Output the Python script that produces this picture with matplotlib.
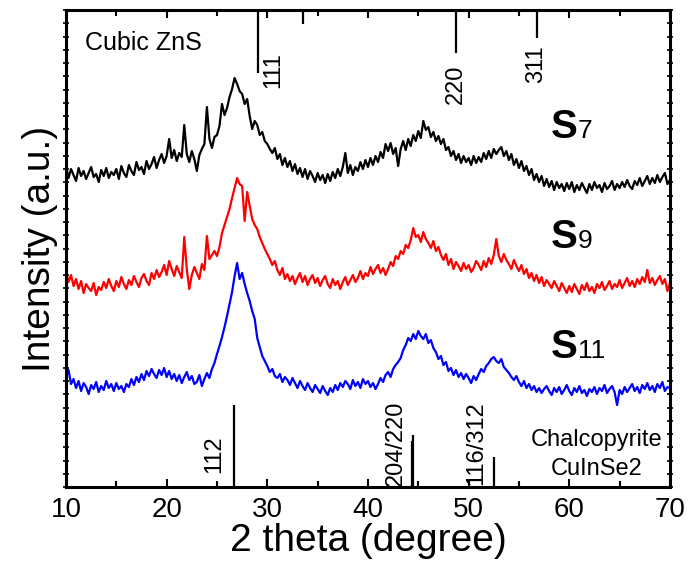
import numpy as np
import matplotlib
matplotlib.use('Agg')
import matplotlib.pyplot as plt
from matplotlib.ticker import MultipleLocator

plt.rcParams['font.family'] = ['Liberation Sans', 'DejaVu Sans']

# 2theta grid, 0.25 deg step (10 .. 70)
theta = np.arange(10, 70.001, 0.25)

# intensities (arbitrary units, offset already included)
s7 = [321, 309, 318, 312, 306, 319, 311, 316, 308, 314, 320, 310, 313, 305, 317, 311, 319, 309, 315, 312,
      318, 308, 321, 314, 310, 322, 316, 312, 325, 317, 320, 313, 326, 318, 323, 330, 319, 327, 333, 324,
      331, 348, 329, 337, 326, 334, 330, 362, 333, 325, 336, 328, 316, 332, 338, 343, 380, 348, 339, 350,
      352, 361, 383, 372, 379, 390, 398, 409, 403, 396, 393, 383, 388, 371, 358, 366, 362, 352, 355, 346,
      343, 338, 334, 339, 328, 333, 322, 329, 320, 326, 316, 323, 313, 319, 310, 318, 308, 316, 311, 305,
      314, 307, 312, 304, 313, 306, 315, 309, 318, 311, 320, 334, 314, 322, 312, 320, 316, 325, 318, 327,
      320, 329, 322, 331, 325, 335, 329, 343, 336, 344, 333, 339, 321, 338, 346, 337, 348, 341, 352, 346,
      356, 349, 366, 357, 360, 350, 355, 346, 351, 343, 348, 337, 340, 331, 336, 327, 333, 324, 331, 325,
      329, 322, 331, 324, 330, 325, 334, 328, 336, 329, 338, 333, 337, 340, 331, 336, 327, 333, 322, 328,
      319, 326, 316, 321, 312, 318, 307, 313, 305, 311, 301, 308, 300, 306, 297, 305, 299, 303, 296, 304,
      298, 305, 295, 302, 297, 304, 299, 294, 303, 297, 305, 299, 302, 295, 304, 298, 301, 306, 297, 303,
      299, 305, 300, 307, 301, 298, 306, 302, 309, 301, 306, 311, 303, 309, 304, 312, 305, 310, 314, 303, 307]

s9 = [216, 205, 212, 201, 208, 198, 206, 194, 203, 199, 196, 204, 192, 200, 197, 205, 199, 208, 201, 196,
      206, 200, 210, 203, 198, 207, 202, 211, 205, 200, 209, 213, 206, 202, 214, 208, 217, 210, 215, 222,
      212, 226, 218, 211, 221, 215, 209, 250, 218, 198, 212, 220, 214, 208, 223, 217, 251, 228, 232, 236,
      231, 240, 254, 262, 270, 278, 289, 299, 309, 303, 301, 266, 295, 281, 268, 262, 258, 250, 244, 238,
      233, 228, 222, 226, 217, 212, 219, 208, 213, 206, 211, 203, 209, 214, 205, 211, 202, 208, 212, 204,
      209, 201, 207, 211, 203, 199, 208, 202, 206, 198, 205, 210, 202, 207, 212, 205, 209, 216, 208, 214,
      211, 220, 213, 218, 222, 214, 219, 212, 218, 225, 221, 231, 228, 236, 233, 242, 239, 247, 259, 250,
      252, 245, 255, 248, 244, 239, 246, 236, 240, 232, 227, 233, 222, 228, 218, 225, 221, 216, 224, 218,
      222, 215, 219, 226, 222, 217, 226, 220, 229, 223, 232, 248, 231, 225, 233, 227, 223, 218, 227, 221,
      216, 222, 213, 218, 209, 214, 206, 212, 204, 210, 201, 207, 203, 199, 206, 201, 196, 204, 199, 194,
      201, 195, 203, 198, 193, 202, 197, 204, 196, 200, 194, 203, 199, 205, 197, 201, 206, 198, 203, 200,
      207, 199, 204, 209, 201, 206, 200, 208, 203, 210, 205, 217, 204, 209, 202, 207, 211, 203, 208, 196, 204]

s11 = [110, 117, 103, 108, 99, 106, 96, 104, 100, 93, 102, 98, 105, 95, 101, 97, 106, 99, 103, 96,
       104, 98, 101, 95, 103, 100, 108, 102, 110, 105, 113, 107, 116, 111, 118, 113, 109, 117, 112, 119,
       110, 116, 108, 113, 106, 112, 104, 110, 115, 107, 111, 103, 105, 112, 101, 108, 114, 109, 118, 124,
       133, 141, 150, 160, 171, 183, 195, 211, 224, 208, 214, 203, 194, 186, 176, 168, 149, 140, 131, 126,
       121, 115, 118, 111, 109, 113, 105, 110, 107, 102, 109, 104, 99, 106, 101, 97, 104, 99, 95, 102,
       98, 94, 101, 96, 92, 99, 95, 102, 97, 104, 100, 106, 103, 98, 107, 101, 105, 99, 108, 103,
       106, 100, 104, 98, 103, 109, 105, 112, 115, 110, 118, 122, 125, 129, 137, 142, 149, 146, 153, 148,
       156, 151, 148, 153, 144, 147, 139, 135, 128, 131, 122, 125, 116, 119, 112, 117, 110, 114, 108, 113,
       109, 104, 111, 107, 113, 118, 115, 121, 124, 128, 130, 126, 124, 128, 120, 117, 114, 110, 107, 111,
       105, 101, 106, 99, 103, 97, 101, 95, 99, 94, 98, 101, 96, 92, 99, 95, 100, 93, 97, 102,
       96, 92, 99, 95, 101, 94, 97, 91, 98, 95, 100, 93, 99, 96, 102, 94, 98, 101, 95, 82,
       97, 93, 100, 95, 99, 103, 96, 100, 94, 102, 98, 104, 97, 101, 95, 103, 99, 105, 96, 100, 99]

# reference patterns
zns_pos = [29.05, 33.5, 48.7, 56.8]
zns_low = [414, 463, 434, 449]      # lines hang from the top of the frame
cis_pos = [26.65, 44.35, 44.5, 52.5]
cis_h = [82, 46, 52, 30]

fig = plt.figure(figsize=(6.91, 5.75), dpi=100)
ax = fig.add_axes([0.0955, 0.153, 0.874, 0.8296])

ax.plot(theta, s7, color='black', lw=1.6)
ax.plot(theta, s9, color='red', lw=1.6)
ax.plot(theta, s11, color='blue', lw=1.6)

ax.vlines(zns_pos, zns_low, 477, color='black', lw=1.6)
ax.vlines(cis_pos, 0, cis_h, color='black', lw=1.6)

# labels of the reflections
ax.text(11.9, 444, 'Cubic ZnS', fontsize=18, ha='left', va='center')
ax.text(30.6, 417, '111', fontsize=17, rotation=90, ha='center', va='center')
ax.text(48.7, 403, '220', fontsize=17, rotation=90, ha='center', va='center')
ax.text(56.7, 423, '311', fontsize=17, rotation=90, ha='center', va='center')
ax.text(24.7, 33, '112', fontsize=17, rotation=90, ha='center', va='center')
ax.text(42.8, 44, '204/220', fontsize=17, rotation=90, ha='center', va='center')
ax.text(50.8, 44, '116/312', fontsize=17, rotation=90, ha='center', va='center')
ax.text(62.7, 47, 'Chalcopyrite', fontsize=17, ha='center', va='center')
ax.text(62.7, 18, 'CuInSe2', fontsize=17, ha='center', va='center')

# sample names
for y, sub in [(349, '7'), (239, '9'), (129, '11')]:
    ax.text(58.2, y, 'S', fontsize=29, fontweight='bold', ha='left', va='baseline')
    ax.text(60.85, y, sub, fontsize=19, ha='left', va='baseline')

ax.set_xlim(10, 70)
ax.set_ylim(0, 477)
ax.xaxis.set_major_locator(MultipleLocator(10))
ax.xaxis.set_minor_locator(MultipleLocator(5))
ax.yaxis.set_major_locator(MultipleLocator(477 / 36))
ax.tick_params(axis='x', which='major', direction='in', length=6, width=1.5,
               top=True, labelsize=20, pad=7)
ax.tick_params(axis='x', which='minor', direction='in', length=4, width=1.5, top=True)
ax.tick_params(axis='y', which='major', direction='inout', length=4, width=1.2,
               right=True, labelleft=False)
for sp in ax.spines.values():
    sp.set_linewidth(2.2)

ax.set_xlabel('2 theta (degree)', fontsize=28, labelpad=0)
ax.set_ylabel('Intensity (a.u.)', fontsize=28, labelpad=4)

plt.savefig('out.png', dpi=100)
